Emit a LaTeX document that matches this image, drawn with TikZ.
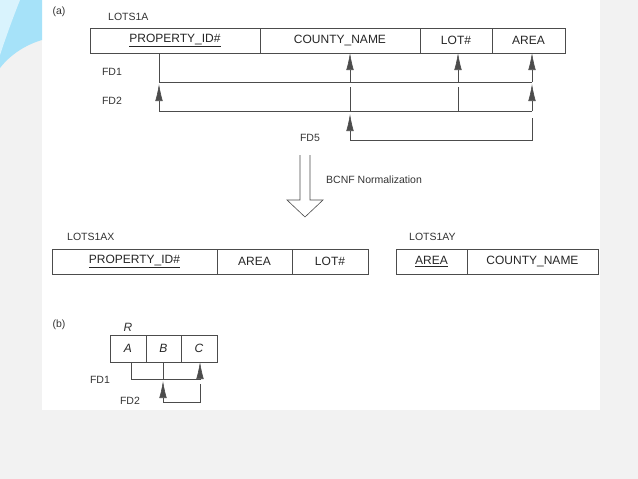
\documentclass[tikz,border=0pt]{standalone}
\usepackage{fontspec}
\setmainfont{Liberation Sans}
\usetikzlibrary{arrows.meta}
\begin{document}
\begin{tikzpicture}[x=1pt,y=-1pt,
  lbl/.style={font=\fontsize{10.5}{12}\selectfont,text=black!80,inner sep=0pt},
  cell/.style={draw=black!70,line width=0.6pt,minimum height=25pt,inner sep=0pt,font=\fontsize{12}{14}\selectfont,text=black!85},
  fd/.style={draw=black!70,line width=0.6pt},
  fda/.style={fd,-{Latex[length=17pt,width=7.5pt]}}]
\useasboundingbox (0,0) rectangle (638,479);
\fill[black!5] (0,0) rectangle (638,479);
\fill[white] (42,0) rectangle (600,410);
\fill[cyan!35] (0,0) -- (42,0) -- (42,40) .. controls (25,45) and (10,55) .. (0,68) -- cycle;
\fill[cyan!15] (0,0) -- (20,0) .. controls (12,20) and (5,40) .. (0,55) -- cycle;
% (a)
\node[lbl] (la) at (59,12) {(a)};
\node[lbl,anchor=west] (lots) at (108,17) {LOTS1A};
\node[cell,minimum width=170pt] (pid) at (175,40.5) {\underline{PROPERTY\_ID\#}};
\node[cell,minimum width=160pt] (cn) at (340,40.5) {COUNTY\_NAME};
\node[cell,minimum width=72pt] (lot) at (456,40.5) {LOT\#};
\node[cell,minimum width=73pt] (ar) at (528.5,40.5) {AREA};
\coordinate (f1a) at (159,82); \coordinate (f1b) at (532,82);
\coordinate (p1) at (350,82); \coordinate (p2) at (458,82);
\draw[fd] (159,53) -- (f1a) -- (f1b);
\draw[fda] (p1) -- (350,53);
\draw[fda] (p2) -- (458,53);
\draw[fda] (f1b) -- (532,53);
\node[lbl] (fd1) at (112,72) {FD1};
\coordinate (f2a) at (159,111); \coordinate (f2b) at (532,111);
\draw[fda] (f2b) -- (f2a) -- (159,84);
\draw[fda] (f2b) -- (532,84);
\draw[fd] (350,87) -- (350,111);
\draw[fd] (458,87) -- (458,111);
\node[lbl] (fd2) at (112,101) {FD2};
\coordinate (f5a) at (532,140); \coordinate (f5b) at (350,140);
\draw[fda] (532,118) -- (f5a) -- (f5b) -- (350,114);
\node[lbl] (fd5) at (310,138) {FD5};
% big arrow
\draw[black!70,line width=0.6pt] (300,155) -- (300,200) -- (287,200) -- (305,217) -- (323,200) -- (310,200) -- (310,155);
\node[lbl,anchor=west] (bcnf) at (326,180) {BCNF Normalization};
% LOTS1AX
\node[lbl,anchor=west] (ax) at (67,237) {LOTS1AX};
\node[cell,minimum width=165pt] (xp) at (134.5,261.5) {\underline{PROPERTY\_ID\#}};
\node[cell,minimum width=75pt] (xa) at (254.5,261.5) {AREA};
\node[cell,minimum width=76pt] (xl) at (330,261.5) {LOT\#};
\node[lbl,anchor=west] (ay) at (409,237) {LOTS1AY};
\node[cell,minimum width=71pt] (ya) at (431.5,261.5) {\underline{AREA}};
\node[cell,minimum width=131pt] (yc) at (532.5,261.5) {COUNTY\_NAME};
% (b)
\node[lbl] (lb) at (59,325) {(b)};
\node[lbl,font=\fontsize{12}{14}\selectfont\itshape] (r) at (128,327) {R};
\node[cell,minimum width=36pt,minimum height=27pt,font=\fontsize{12}{14}\selectfont\itshape] (A) at (128,348.5) {A};
\node[cell,minimum width=35pt,minimum height=27pt,font=\fontsize{12}{14}\selectfont\itshape] (B) at (163.5,348.5) {B};
\node[cell,minimum width=36pt,minimum height=27pt,font=\fontsize{12}{14}\selectfont\itshape] (C) at (199,348.5) {C};
\coordinate (b1) at (131,379); \coordinate (b2) at (200,379);
\draw[fd] (131,362) -- (b1) -- (b2);
\draw[fda] (b2) -- (200,362);
\draw[fd] (163,362) -- (163,379);
\coordinate (b3) at (200,402); \coordinate (b4) at (163,402);
\draw[fda] (200,384) -- (b3) -- (b4) -- (163,381);
\node[lbl] (bf1) at (100,380) {FD1};
\node[lbl] (bf2) at (130,401) {FD2};
\end{tikzpicture}
\end{document}
